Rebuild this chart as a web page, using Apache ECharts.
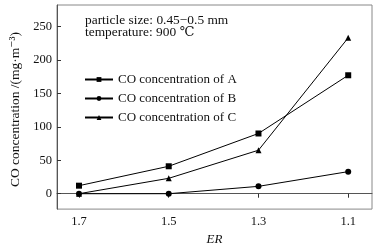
<!DOCTYPE html>
<html>
<head>
<meta charset="utf-8">
<script src="https://cdn.jsdelivr.net/npm/echarts@6/dist/echarts.min.js"></script>
<style>
  html, body { margin: 0; padding: 0; background: #fff; }
  #main { width: 379px; height: 251px; }
</style>
</head>
<body>
<div id="main"></div>
<script>
// ---- data ----
var erValues = [1.7, 1.5, 1.3, 1.1];
var coA = [12, 41, 90, 177];
var coB = [0, 0, 11, 33];
var coC = [0, 23, 65, 233];
var yTicks = [0, 50, 100, 150, 200, 250];
var seriesNames = ['CO concentration of A', 'CO concentration of B', 'CO concentration of C'];

function pairs(vals) {
    return erValues.map(function (x, i) { return [x, vals[i]]; });
}

var dom = document.getElementById('main');
var myChart = echarts.init(dom, null, { renderer: 'canvas' });
var serif = '"Liberation Serif", "DejaVu Serif", serif';

var option = {
    animation: false,
    backgroundColor: '#fff',
    textStyle: { fontFamily: serif },
    title: {
        text: 'particle size: 0.45\u22120.5 mm\ntemperature: 900 \u2103',
        left: 80,
        top: 10,
        textStyle: { fontFamily: serif, fontSize: 13.4, fontWeight: 'normal', color: '#111', lineHeight: 11.5 }
    },
    legend: {
        orient: 'vertical',
        left: 79,
        top: 68,
        itemWidth: 28,
        itemHeight: 6,
        itemGap: 6,
        textStyle: { fontFamily: serif, fontSize: 13, color: '#111' },
        data: seriesNames
    },
    grid: {
        left: 55,
        right: 7,
        top: 5,
        bottom: 37,
        show: true,
        borderColor: '#888',
        borderWidth: 1
    },
    xAxis: {
        type: 'value',
        inverse: true,
        min: 1.047,
        max: 1.749,
        name: 'ER',
        nameLocation: 'middle',
        nameGap: 21,
        nameTextStyle: { fontFamily: serif, fontStyle: 'italic', fontSize: 13, color: '#111' },
        axisLine: { lineStyle: { color: '#555' } },
        axisTick: { show: true, length: 4, lineStyle: { color: '#333' }, customValues: erValues },
        axisLabel: {
            customValues: erValues,
            color: '#111', fontSize: 12.5, fontFamily: serif, margin: 6,
            formatter: function (v) { return v.toFixed(1); }
        },
        splitLine: { show: false }
    },
    yAxis: {
        type: 'value',
        min: -23,
        max: 282,
        name: 'CO concentration /(mg\u00b7m\u207b\u00b3)',
        nameLocation: 'middle',
        nameGap: 35,
        nameTextStyle: { fontFamily: serif, fontSize: 13.5, color: '#111', padding: [0, 5, 0, 0] },
        axisLine: { show: true, lineStyle: { color: '#555' } },
        axisTick: { show: true, inside: true, length: 4, lineStyle: { color: '#333' }, customValues: yTicks },
        axisLabel: { customValues: yTicks, color: '#111', fontSize: 12.5, fontFamily: serif, margin: 5 },
        splitLine: { show: false }
    },
    series: [{
        name: seriesNames[0],
        type: 'line',
        data: pairs(coA),
        symbol: 'rect',
        symbolSize: 6,
        color: '#000',
        lineStyle: { width: 1, color: '#000' }
    }, {
        name: seriesNames[1],
        type: 'line',
        data: pairs(coB),
        symbol: 'circle',
        symbolSize: 6,
        color: '#000',
        lineStyle: { width: 1, color: '#000' }
    }, {
        name: seriesNames[2],
        type: 'line',
        data: pairs(coC),
        symbol: 'triangle',
        symbolSize: 6,
        color: '#000',
        lineStyle: { width: 1, color: '#000' }
    }]
};

if (option && typeof option === 'object') {
    myChart.setOption(option);
}
</script>
</body>
</html>
